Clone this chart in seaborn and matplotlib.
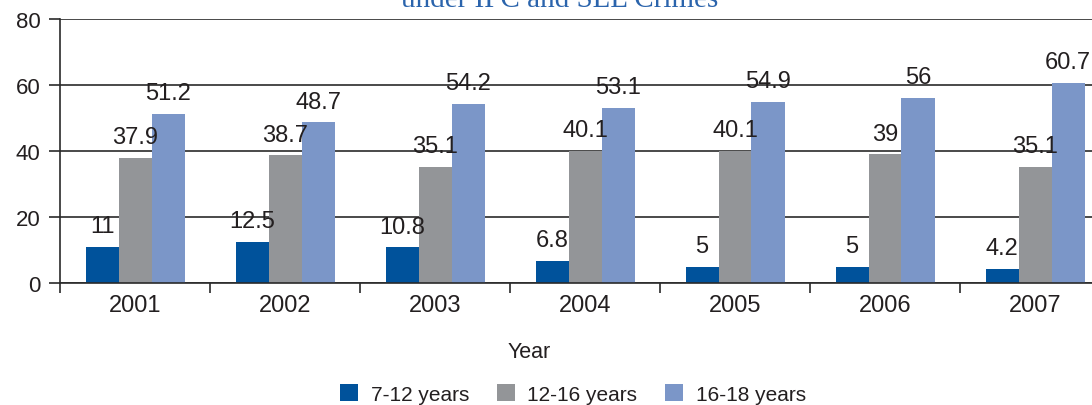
import matplotlib
matplotlib.use("Agg")
import matplotlib.pyplot as plt
import numpy as np
import pandas as pd
import seaborn as sns
from matplotlib.ticker import FixedLocator

# Data
years = ["2001", "2002", "2003", "2004", "2005", "2006", "2007"]
age_groups = ["7-12 years", "12-16 years", "16-18 years"]
share_7_12 = [11, 12.5, 10.8, 6.8, 5, 5, 4.2]
share_12_16 = [37.9, 38.7, 35.1, 40.1, 40.1, 39, 35.1]
share_16_18 = [51.2, 48.7, 54.2, 53.1, 54.9, 56, 60.7]
y_ticks = [0, 20, 40, 60, 80]

colors = ["#00529B", "#939598", "#7B96C8"]
text_color = "#231F20"

df = pd.DataFrame({
    "Year": years * 3,
    "Share": share_7_12 + share_12_16 + share_16_18,
    "Group": [g for g in age_groups for _ in years],
})

sns.set_theme(style="white")
plt.rcParams["font.family"] = ["Liberation Sans", "DejaVu Sans"]

W, H = 1092, 406
fig = plt.figure(figsize=(W / 100, H / 100), dpi=100)
ax = fig.add_axes([60 / W, 1 - 284 / H, 1050 / W, 264 / H])

sns.barplot(data=df, x="Year", y="Share", hue="Group", order=years,
            hue_order=age_groups, palette=colors, width=0.66, gap=0,
            saturation=1, edgecolor="none", linewidth=0, ax=ax)

ax.set_xlim(-0.5, len(years) - 0.5)
ax.set_ylim(0, 80)
ax.set_yticks(y_ticks)
ax.set_axisbelow(True)
ax.yaxis.grid(True, color="#2a2a2a", linewidth=1.2)
ax.xaxis.grid(False)

for side in ["top", "right"]:
    ax.spines[side].set_visible(False)
for side in ["left", "bottom"]:
    ax.spines[side].set_color("#2a2a2a")
    ax.spines[side].set_linewidth(1.2)

# Category boundaries carry the tick marks; labels sit at the centres
ax.xaxis.set_minor_locator(FixedLocator(np.arange(-0.5, len(years), 1.0)))
ax.tick_params(axis="x", which="major", length=0, pad=8,
               labelsize=17, labelcolor=text_color)
ax.tick_params(axis="x", which="minor", length=7, width=1.2,
               color="#2a2a2a", direction="out", bottom=True)
ax.tick_params(axis="y", which="major", length=8, width=1.2,
               color="#2a2a2a", direction="out", left=True, pad=6,
               labelsize=16, labelcolor=text_color)

ax.set_xlabel("")
ax.set_ylabel("")

# Value labels above each bar
series = [share_7_12, share_12_16, share_16_18]
for container, vals in zip(ax.containers, series):
    ax.bar_label(container, labels=[f"{v:g}" for v in vals], padding=7,
                 fontsize=17, color=text_color)

handles, labels = ax.get_legend_handles_labels()
ax.get_legend().remove()

fig.text(529 / W, 1 - 352 / H, "Year", ha="center", va="center",
         fontsize=15.5, color=text_color)

fig.legend(handles, labels, loc="center", bbox_to_anchor=(573 / W, 1 - 395 / H),
           ncol=3, frameon=False, fontsize=15, handlelength=0.85,
           handleheight=0.85, handletextpad=0.6, columnspacing=1.35,
           labelcolor=text_color)

fig.text(560 / W, 1 - 7 / H, "under IPC and SLL Crimes", ha="center",
         va="baseline", fontsize=21, color="#2B64AC",
         family=["Liberation Serif", "DejaVu Serif"])

fig.savefig("out.png", dpi=100)
